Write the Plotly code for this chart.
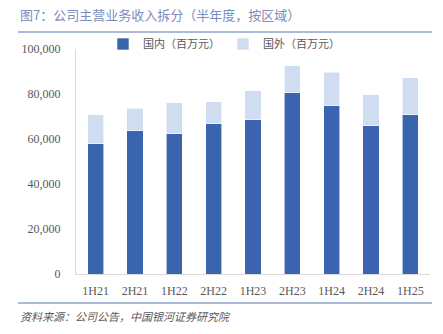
import plotly.graph_objects as go

categories = ["1H21", "2H21", "1H22", "2H22", "1H23", "2H23", "1H24", "2H24", "1H25"]
domestic = [58000, 63700, 62300, 66800, 68500, 80600, 74800, 66000, 70800]
foreign = [12700, 10000, 13900, 9800, 12900, 12000, 14900, 13600, 16500]
y_ticks = [0, 20000, 40000, 60000, 80000, 100000]

title_text = "图7：公司主营业务收入拆分（半年度，按区域）"
source_text = "资料来源：公司公告，中国银河证券研究院"

W, H = 443, 334
L, R, T, B = 76, 13, 49, 60
pw, ph = W - L - R, H - T - B

def px(x):
    return (x - L) / pw

def py(y):
    return (H - B - y) / ph

serif = "Liberation Serif, DejaVu Serif, serif"
cjk = "Noto Sans CJK SC, sans-serif"

fig = go.Figure()
fig.add_trace(go.Bar(x=categories, y=domestic, name="国内（百万元）",
                     marker=dict(color="#3A64AE", line=dict(color="#FFFFFF", width=0.6))))
fig.add_trace(go.Bar(x=categories, y=foreign, name="国外（百万元）",
                     marker=dict(color="#D0DDF0", line=dict(color="#FFFFFF", width=0.6))))

fig.update_layout(
    width=W, height=H,
    margin=dict(l=L, r=R, t=T, b=B),
    barmode="stack",
    bargap=0.59,
    plot_bgcolor="white",
    paper_bgcolor="white",
    showlegend=True,
    legend=dict(orientation="h", x=px(103), y=py(44), xanchor="left", yanchor="middle",
                traceorder="normal",
                font=dict(family=cjk, size=11, color="#595959"),
                itemwidth=30, bgcolor="rgba(0,0,0,0)",
                entrywidthmode="pixels", entrywidth=75),
    xaxis=dict(showline=True, linecolor="#D9D9D9", linewidth=1, ticks="",
               tickfont=dict(family=serif, size=12, color="#595959"), showgrid=False,
               ticklabelstandoff=6),
    yaxis=dict(range=[0, 100000], tickvals=y_ticks, tickformat=",", showgrid=False,
               showline=True, linecolor="#D9D9D9", linewidth=1, ticks="",
               tickfont=dict(family=serif, size=12, color="#595959"), zeroline=False,
               ticklabelstandoff=12),
    shapes=[
        dict(type="line", xref="paper", yref="paper", x0=px(18), x1=px(432), y0=py(32), y1=py(32),
             line=dict(color="#8FA3CC", width=1.5)),
        dict(type="line", xref="paper", yref="paper", x0=px(18), x1=px(432), y0=py(303), y1=py(303),
             line=dict(color="#8FA3CC", width=1.5)),
    ],
    annotations=[
        dict(text=title_text, xref="paper", yref="paper", x=px(18), y=py(15), xanchor="left",
             yanchor="middle", showarrow=False, font=dict(family=cjk, size=13, color="#7C8CBC")),
        dict(text="<i>" + source_text + "</i>", xref="paper", yref="paper", x=px(18), y=py(316),
             xanchor="left", yanchor="middle", showarrow=False,
             font=dict(family=cjk, size=11, color="#595959")),
    ],
)

fig.write_html("out.html")
